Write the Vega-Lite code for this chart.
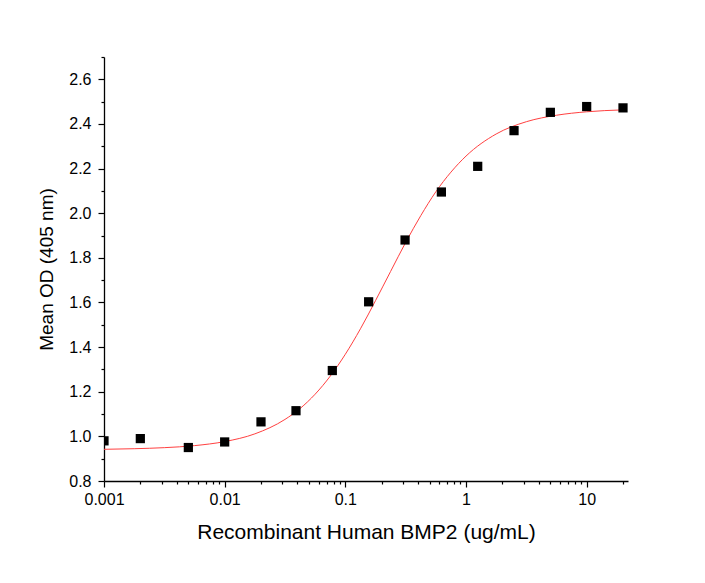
{
  "$schema": "https://vega.github.io/schema/vega-lite/v6.json",
  "width": 524,
  "height": 424,
  "autosize": {"type": "none"},
  "padding": {"left": 104, "top": 57, "right": 77, "bottom": 102},
  "background": "white",
  "config": {
    "view": {"stroke": null},
    "font": "Liberation Sans",
    "axis": {
      "domainColor": "black", "domainWidth": 1.3, "tickColor": "black", "tickWidth": 1.2,
      "labelColor": "black", "titleColor": "black", "grid": false,
      "labelFont": "Liberation Sans", "titleFont": "Liberation Sans",
      "labelFontSize": 16, "titleFontSize": 19, "titleFontWeight": "normal"
    }
  },
  "datasets": {
    "pts": [
      {"x": 0.001, "y": 0.98}, {"x": 0.002, "y": 0.99}, {"x": 0.005, "y": 0.95},
      {"x": 0.01, "y": 0.975}, {"x": 0.02, "y": 1.065}, {"x": 0.039, "y": 1.115},
      {"x": 0.078, "y": 1.295}, {"x": 0.156, "y": 1.603}, {"x": 0.3125, "y": 1.88},
      {"x": 0.625, "y": 2.095}, {"x": 1.25, "y": 2.21}, {"x": 2.5, "y": 2.37},
      {"x": 5, "y": 2.452}, {"x": 10, "y": 2.478}, {"x": 20, "y": 2.472}
    ],
    "fit": [
      {"x": 0.001, "y": 0.942}, {"x": 0.00178, "y": 0.9447}, {"x": 0.00316, "y": 0.9494},
      {"x": 0.00562, "y": 0.9585}, {"x": 0.01, "y": 0.9766}, {"x": 0.0178, "y": 1.0113},
      {"x": 0.0316, "y": 1.0759}, {"x": 0.0422, "y": 1.125}, {"x": 0.0562, "y": 1.189},
      {"x": 0.075, "y": 1.27}, {"x": 0.1, "y": 1.368}, {"x": 0.1334, "y": 1.482},
      {"x": 0.1778, "y": 1.608}, {"x": 0.2371, "y": 1.739}, {"x": 0.3162, "y": 1.869},
      {"x": 0.4217, "y": 1.989}, {"x": 0.5623, "y": 2.096}, {"x": 0.7499, "y": 2.184},
      {"x": 1, "y": 2.256}, {"x": 1.778, "y": 2.355}, {"x": 3.162, "y": 2.41},
      {"x": 5.623, "y": 2.439}, {"x": 10, "y": 2.4545}, {"x": 19.95, "y": 2.463}
    ]
  },
  "encoding": {
    "x": {
      "field": "x", "type": "quantitative",
      "scale": {"type": "log", "domain": [0.001, 22], "nice": false},
      "axis": {
        "title": "Recombinant Human BMP2 (ug/mL)",
        "titleFontSize": 21,
        "values": [0.001,0.002,0.003,0.004,0.005,0.006,0.007,0.008,0.009,0.01,0.02,0.03,0.04,0.05,0.06,0.07,0.08,0.09,0.1,0.2,0.3,0.4,0.5,0.6,0.7,0.8,0.9,1,2,3,4,5,6,7,8,9,10,20],
        "format": "~g",
        "labelExpr": "abs(log(datum.value)/LN10 - round(log(datum.value)/LN10)) < 1e-6 ? datum.label : ''",
        "tickSize": {"condition": {"test": "abs(log(datum.value)/LN10 - round(log(datum.value)/LN10)) < 1e-6", "value": 6}, "value": 3},
        "labelPadding": 4,
        "labelFlush": false,
        "labelOverlap": false,
        "titlePadding": 14
      }
    },
    "y": {
      "field": "y", "type": "quantitative",
      "scale": {"domain": [0.8, 2.7], "nice": false, "zero": false},
      "axis": {
        "title": "Mean OD (405 nm)",
        "titleFontSize": 19,
        "values": [0.8,0.9,1.0,1.1,1.2,1.3,1.4,1.5,1.6,1.7,1.8,1.9,2.0,2.1,2.2,2.3,2.4,2.5,2.6,2.7],
        "format": ".1f",
        "labelExpr": "round(datum.value*10) % 2 == 0 ? datum.label : ''",
        "tickSize": {"condition": {"test": "round(datum.value*10) % 2 == 0", "value": 6}, "value": 3},
        "labelPadding": 7,
        "labelOverlap": false,
        "titlePadding": 12
      }
    }
  },
  "layer": [
    {"data": {"name": "fit"}, "mark": {"type": "line", "color": "#ff4040", "strokeWidth": 1, "interpolate": "monotone", "clip": true}},
    {"data": {"name": "pts"}, "mark": {"type": "square", "color": "black", "opacity": 1, "size": 85, "clip": true}}
  ]
}
